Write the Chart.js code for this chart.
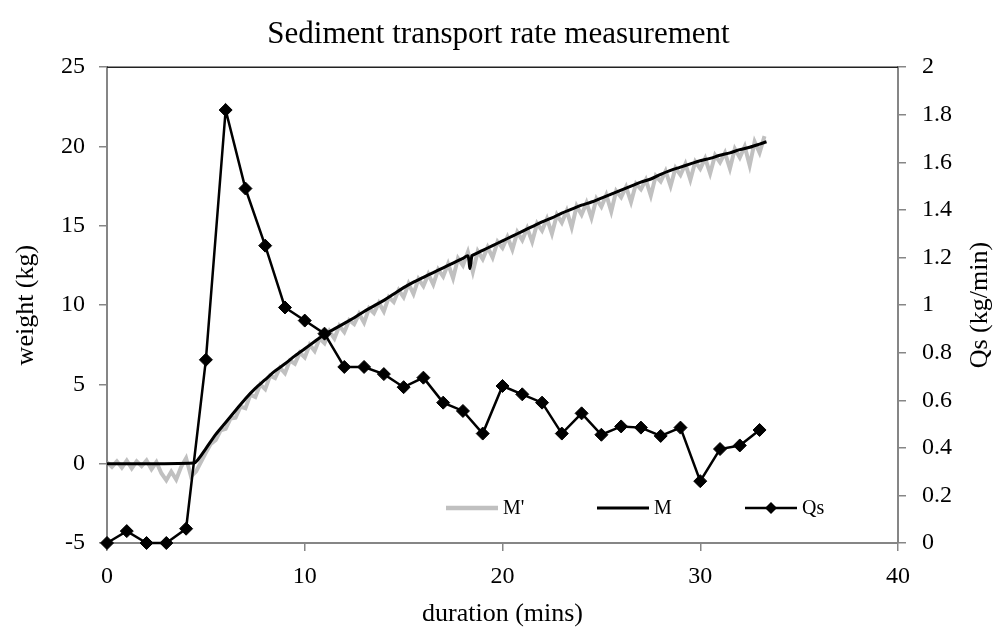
<!DOCTYPE html>
<html>
<head>
<meta charset="utf-8">
<script src="https://cdn.jsdelivr.net/npm/chart.js@4.4.1/dist/chart.umd.min.js"></script>
<style>
  html, body { margin: 0; padding: 0; background: #fff; }
  #wrap { width: 997px; height: 630px; }
</style>
</head>
<body>
<div id="wrap"><canvas id="chart" width="997" height="630"></canvas></div>
<script>
// Qs (kg/min), one reading per minute
const qsTime = [0, 1, 2, 3, 4, 5, 6, 7, 8, 9, 10, 11, 12, 13, 14, 15, 16,
  17, 18, 19, 20, 21, 22, 23, 24, 25, 26, 27, 28, 29, 30, 31, 32, 33];
const qsRate = [0, 0.05, 0, 0, 0.06, 0.77, 1.82, 1.49, 1.25, 0.99, 0.935, 0.88,
  0.74, 0.74, 0.71, 0.655, 0.695, 0.59, 0.555, 0.46, 0.66, 0.625, 0.59, 0.46,
  0.545, 0.455, 0.49, 0.485, 0.45, 0.485, 0.26, 0.395, 0.41, 0.475];

// M (smoothed weight, kg)
const mTime = [0, 4.4, 4.6, 5, 5.5, 6, 6.5, 7, 7.5, 8, 8.5, 9, 9.5, 10, 10.5,
  11, 11.5, 12, 12.5, 13, 13.5, 14, 14.5, 15, 15.5, 16, 16.5, 17, 17.5, 18,
  18.25, 18.35, 18.45, 18.5, 19, 19.5, 20, 20.5, 21, 21.5, 22, 22.5, 23, 23.5,
  24, 24.5, 25, 25.5, 26, 26.5, 27, 27.5, 28, 28.5, 29, 29.5, 30, 30.5, 31,
  31.5, 32, 32.5, 33, 33.35];
const mWeight = [0, 0.05, 0.25, 0.95, 1.85, 2.6, 3.35, 4.1, 4.75, 5.3, 5.85,
  6.3, 6.8, 7.25, 7.7, 8.15, 8.5, 8.85, 9.2, 9.6, 9.95, 10.3, 10.7, 11.1, 11.45,
  11.75, 12.05, 12.35, 12.65, 12.95, 13.1, 12.3, 13.1, 13.15, 13.45, 13.75,
  14.05, 14.35, 14.65, 14.95, 15.25, 15.5, 15.8, 16.05, 16.3, 16.5, 16.75, 17.0,
  17.25, 17.5, 17.75, 17.95, 18.25, 18.5, 18.7, 18.9, 19.1, 19.25, 19.45, 19.6,
  19.8, 19.95, 20.15, 20.3];

// M' (raw weight, kg)
const mRawTime = [
  0, 0.25, 0.5, 0.75, 1, 1.25, 1.5, 1.75, 2, 2.25, 2.5, 2.75, 3, 3.25, 3.5, 3.75,
  4, 4.25, 4.5, 4.75, 5, 5.25, 5.5, 5.75, 6, 6.25, 6.5, 6.75, 7, 7.25, 7.5, 7.75,
  8, 8.25, 8.5, 8.75, 9, 9.25, 9.5, 9.75, 10, 10.25, 10.5, 10.75, 11, 11.25, 11.5, 11.75,
  12, 12.25, 12.5, 12.75, 13, 13.25, 13.5, 13.75, 14, 14.25, 14.5, 14.75, 15, 15.25, 15.5, 15.75,
  16, 16.25, 16.5, 16.75, 17, 17.25, 17.5, 17.75, 18, 18.25, 18.5, 18.75, 19, 19.25, 19.5, 19.75,
  20, 20.25, 20.5, 20.75, 21, 21.25, 21.5, 21.75, 22, 22.25, 22.5, 22.75, 23, 23.25, 23.5, 23.75,
  24, 24.25, 24.5, 24.75, 25, 25.25, 25.5, 25.75, 26, 26.25, 26.5, 26.75, 27, 27.25, 27.5, 27.75,
  28, 28.25, 28.5, 28.75, 29, 29.25, 29.5, 29.75, 30, 30.25, 30.5, 30.75, 31, 31.25, 31.5, 31.75,
  32, 32.25, 32.5, 32.75, 33, 33.25];
const mRawWeight = [
  0.1, -0.2, 0.15, -0.25, 0.2, -0.3, 0.15, -0.15, 0.2, -0.35, 0.1, -0.6, -1.05, -0.5, -1.0, -0.2,
  0.35, -0.8, -0.5, 0.1, 0.7, 1.25, 1.5, 2.1, 2.2, 2.85, 2.9, 3.6, 3.5, 4.35, 4.2, 5.0,
  4.7, 5.55, 5.4, 6.05, 5.7, 6.5, 6.3, 7.0, 6.7, 7.5, 7.1, 7.9, 7.6, 8.35, 7.9, 8.7,
  8.3, 9.05, 8.8, 9.45, 8.9, 9.8, 9.5, 10.15, 9.6, 10.5, 10.2, 10.95, 10.5, 11.35, 10.7, 11.65,
  11.2, 11.95, 11.3, 12.25, 11.8, 12.6, 11.7, 12.95, 12.5, 13.35, 12.1, 13.4, 12.9, 13.65, 13.0, 14.0,
  13.6, 14.3, 13.5, 14.6, 14.1, 14.85, 14.0, 15.15, 14.7, 15.45, 14.5, 15.7, 15.2, 15.95, 14.9, 16.25,
  15.7, 16.45, 15.5, 16.7, 16.2, 16.95, 15.9, 17.2, 16.8, 17.45, 16.5, 17.65, 17.3, 17.9, 16.9, 18.15,
  17.8, 18.45, 17.5, 18.65, 18.2, 18.9, 17.9, 19.05, 18.6, 19.25, 18.3, 19.45, 19.0, 19.6, 18.6, 19.85,
  19.3, 20.0, 18.8, 20.3, 19.6, 20.65];

const FONT = "'Liberation Serif', 'Times New Roman', serif";
const AXIS_GREY = "#868686";

function toPoints(xs, ys) {
  return xs.map((x, i) => ({ x: x, y: ys[i] }));
}

// top frame line, right axis title (reads bottom-up) and the in-plot legend
const extras = {
  id: "extras",
  afterDraw(chart) {
    const ctx = chart.ctx;
    const area = chart.chartArea;
    ctx.save();

    ctx.strokeStyle = "#222";
    ctx.lineWidth = 1.5;
    ctx.beginPath();
    ctx.moveTo(area.left, area.top);
    ctx.lineTo(area.right, area.top);
    ctx.stroke();

    ctx.fillStyle = "#000";
    ctx.font = "26px " + FONT;
    ctx.textAlign = "center";
    ctx.textBaseline = "middle";
    ctx.translate(chart.width - 17, (area.top + area.bottom) / 2);
    ctx.rotate(-Math.PI / 2);
    ctx.fillText("Qs (kg/min)", 0, 0);
    ctx.restore();

    ctx.save();
    const ly = area.bottom - 35;
    const items = [
      { label: "M'", color: "#c0c0c0", width: 4.5, marker: false, start: 339 },
      { label: "M", color: "#000", width: 3, marker: false, start: 490 },
      { label: "Qs", color: "#000", width: 2.5, marker: true, start: 638 }
    ];
    ctx.font = "20px " + FONT;
    ctx.textBaseline = "middle";
    ctx.textAlign = "left";
    items.forEach((it) => {
      const x0 = area.left + it.start;
      ctx.strokeStyle = it.color;
      ctx.lineWidth = it.width;
      ctx.beginPath();
      ctx.moveTo(x0, ly);
      ctx.lineTo(x0 + 52, ly);
      ctx.stroke();
      if (it.marker) {
        const cx = x0 + 26, r = 6;
        ctx.fillStyle = "#000";
        ctx.beginPath();
        ctx.moveTo(cx, ly - r);
        ctx.lineTo(cx + r, ly);
        ctx.lineTo(cx, ly + r);
        ctx.lineTo(cx - r, ly);
        ctx.closePath();
        ctx.fill();
      }
      ctx.fillStyle = "#000";
      ctx.fillText(it.label, x0 + 57, ly + 1);
    });
    ctx.restore();
  }
};

new Chart(document.getElementById("chart"), {
  type: "line",
  data: {
    datasets: [
      {
        label: "Qs",
        data: toPoints(qsTime, qsRate),
        yAxisID: "y1",
        borderColor: "#000",
        backgroundColor: "#000",
        borderWidth: 2.5,
        pointStyle: "rectRot",
        pointRadius: 6.5,
        pointBorderWidth: 1,
        tension: 0,
        clip: false
      },
      {
        label: "M",
        data: toPoints(mTime, mWeight),
        yAxisID: "y",
        borderColor: "#000",
        borderWidth: 3,
        pointRadius: 0,
        tension: 0.3
      },
      {
        label: "M'",
        data: toPoints(mRawTime, mRawWeight),
        yAxisID: "y",
        borderColor: "#c0c0c0",
        borderWidth: 4,
        pointRadius: 0,
        tension: 0
      }
    ]
  },
  options: {
    responsive: false,
    animation: false,
    devicePixelRatio: 1,
    layout: { padding: 0 },
    plugins: {
      legend: { display: false },
      tooltip: { enabled: false },
      title: {
        display: true,
        text: "Sediment transport rate measurement",
        color: "#000",
        font: { family: FONT, size: 31, weight: "normal" },
        padding: { top: 16, bottom: 14 }
      }
    },
    scales: {
      x: {
        type: "linear",
        min: 0,
        max: 40,
        ticks: { stepSize: 10, color: "#000", font: { family: FONT, size: 24 }, padding: 11 },
        grid: { drawOnChartArea: false, tickLength: 8, color: AXIS_GREY, lineWidth: 1.5 },
        border: { color: AXIS_GREY, width: 2 },
        title: {
          display: true,
          text: "duration (mins)",
          color: "#000",
          font: { family: FONT, size: 26 },
          padding: { top: 0, bottom: 0 }
        },
        afterFit(scale) { scale.height = 87; }
      },
      y: {
        position: "left",
        min: -5,
        max: 25,
        ticks: { stepSize: 5, color: "#000", font: { family: FONT, size: 24 }, padding: 14 },
        grid: { drawOnChartArea: false, tickLength: 8, color: AXIS_GREY, lineWidth: 1.5 },
        border: { color: AXIS_GREY, width: 2 },
        title: {
          display: true,
          text: "weight (kg)",
          color: "#000",
          font: { family: FONT, size: 26 },
          padding: { top: 11, bottom: 0 }
        },
        afterFit(scale) { scale.width = 107; }
      },
      y1: {
        position: "right",
        min: 0,
        max: 2,
        ticks: {
          stepSize: 0.2,
          color: "#000",
          font: { family: FONT, size: 24 },
          padding: 16,
          callback: (v) => String(Number(v.toFixed(1)))
        },
        grid: { drawOnChartArea: false, tickLength: 8, color: AXIS_GREY, lineWidth: 1.5 },
        border: { color: AXIS_GREY, width: 2 },
        afterFit(scale) { scale.width = 99; }
      }
    }
  },
  plugins: [extras]
});
</script>
</body>
</html>
